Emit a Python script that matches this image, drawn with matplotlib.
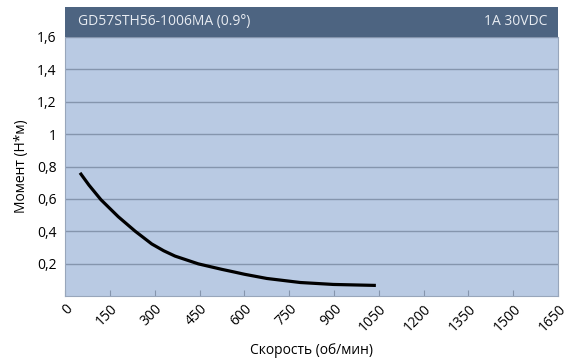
import numpy as np
import matplotlib.pyplot as plt
from matplotlib.patches import Rectangle

# torque curve
speed_rpm = [50, 80, 120, 178, 235, 290, 330, 368, 446, 525, 563, 600, 675,
             787, 898, 1040]
torque_nm = [0.761, 0.685, 0.595, 0.49, 0.40, 0.322, 0.28, 0.247, 0.199, 0.165,
             0.15, 0.135, 0.109, 0.084, 0.072, 0.066]

x_ticks = [0, 150, 300, 450, 600, 750, 900, 1050, 1200, 1350, 1500, 1650]
y_ticks = [0.2, 0.4, 0.6, 0.8, 1.0, 1.2, 1.4, 1.6]
y_labels = ['0,2', '0,4', '0,6', '0,8', '1', '1,2', '1,4', '1,6']

title_left = 'GD57STH56-1006MA (0.9°)'
title_right = '1A 30VDC'

plt.rcParams['font.family'] = ['Open Sans', 'DejaVu Sans']

fig = plt.figure(figsize=(5.76, 3.62), dpi=100)
ax = fig.add_axes([0.113, 0.182, 0.856, 0.716])
ax.set_facecolor('#b9cae3')

ax.plot(speed_rpm, torque_nm, color='black', lw=2.3, solid_capstyle='butt',
        solid_joinstyle='round')

ax.set_xlim(0, 1650)
ax.set_ylim(0, 1.6)
ax.set_xticks(x_ticks)
ax.set_xticklabels([str(v) for v in x_ticks], rotation=45, ha='right',
                   rotation_mode='anchor', fontsize=10)
ax.set_yticks(y_ticks)
ax.set_yticklabels(y_labels, fontsize=10)
ax.grid(axis='y', color='#8595ad', lw=1)
ax.set_axisbelow(True)

ax.tick_params(axis='y', length=0, pad=6)
ax.tick_params(axis='x', direction='in', length=4, color='#8595ad', pad=4)
for side in ['left', 'right', 'bottom']:
    ax.spines[side].set_color('#98a6bb')
ax.spines['top'].set_visible(False)

ax.set_xlabel('Скорость (об/мин)', fontsize=10, labelpad=6)
ax.set_ylabel('Момент (Н*м)', fontsize=10, labelpad=6)

# dark title band above the plot
band = Rectangle((0.113, 0.898), 0.856, 0.083, transform=fig.transFigure,
                 facecolor='#4d6481', edgecolor='none')
fig.patches.append(band)
fig.text(0.135, 0.94, title_left, color='#e8ecf2', fontsize=10, va='center')
fig.text(0.95, 0.94, title_right, color='#e8ecf2', fontsize=10, va='center', ha='right')

fig.savefig('out.png', dpi=100)
